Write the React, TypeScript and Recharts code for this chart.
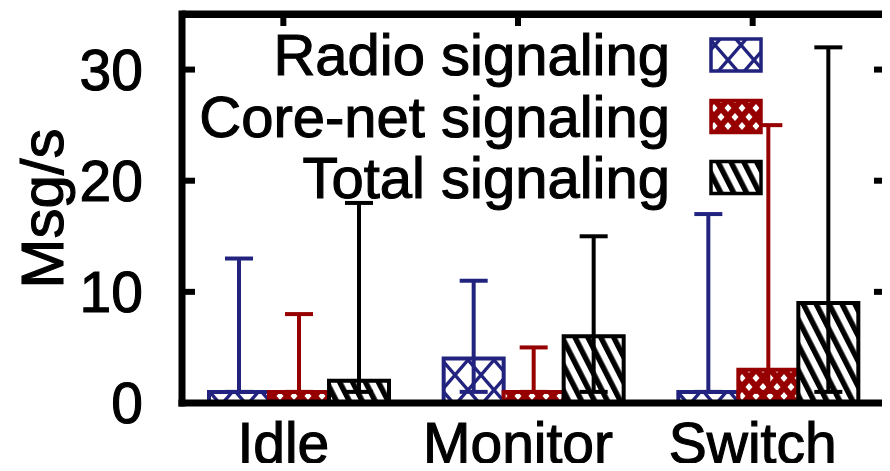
import { BarChart, Bar, XAxis, YAxis, ErrorBar, Legend, ReferenceLine } from "recharts";

const categories = ["Idle", "Monitor", "Switch"];
const seriesNames = ["Radio signaling", "Core-net signaling", "Total signaling"];

// mean bar heights, plus min/max for the error whiskers
const radioMean = [1, 4, 1];
const radioMin = [1, 1, 1];
const radioMax = [13, 11, 17];

const coreMean = [1, 1, 3];
const coreMin = [1, 1, 1];
const coreMax = [8, 5, 25];

const totalMean = [2, 6, 9];
const totalMin = [1, 1, 1];
const totalMax = [18, 15, 32];

const yTicks = [0, 10, 20, 30];
const yMax = 35;

const BLUE = "#22227f";
const RED = "#960000";
const BLACK = "#000000";
const FONT = '"Liberation Sans", Arial, Helvetica, sans-serif';

const W = 890;
const H = 471;
const MARGIN = { top: 14, right: 4, bottom: 0, left: 0 };
const Y_AXIS_W = 182;
const X_AXIS_H = 68;
const PLOT_W = 704; // W - MARGIN.right - Y_AXIS_W
const PLOT_H = 389; // H - MARGIN.top - X_AXIS_H
const LABEL_SHIFT = -16;

const data = categories.map((name, i) => ({
  name,
  radio: radioMean[i],
  radioErr: [radioMean[i] - radioMin[i], radioMax[i] - radioMean[i]],
  core: coreMean[i],
  coreErr: [coreMean[i] - coreMin[i], coreMax[i] - coreMean[i]],
  total: totalMean[i],
  totalErr: [totalMean[i] - totalMin[i], totalMax[i] - totalMean[i]],
}));

const colors = [BLUE, RED, BLACK];
const patIds = ["patRadio", "patCore", "patTotal"];

// gnuplot-ish text is a bit heavier than plain Liberation Sans
const textStyle = { fontFamily: FONT, fill: "#000", stroke: "#000", strokeWidth: 1.1 };

// left tic + label, mirrored tic on the right; the 0 tic also carries the right border
const LeftTick = ({ x, y, payload }: any) => (
  <g>
    <line x1={x} x2={x + 13} y1={y} y2={y} stroke="#000" strokeWidth={6} />
    <line x1={x + PLOT_W} x2={x + PLOT_W - 12} y1={y} y2={y} stroke="#000" strokeWidth={6} />
    {payload.value === 0 && (
      <line
        x1={x + PLOT_W - 1}
        x2={x + PLOT_W - 1}
        y1={y + 3.5}
        y2={y - PLOT_H - 3.5}
        stroke="#000"
        strokeWidth={6}
      />
    )}
    <text x={x - 39} y={y + 20} textAnchor="end" fontSize={57} {...textStyle}>
      {payload.value}
    </text>
  </g>
);

// gnuplot puts the category label a bit left of the bar cluster; mirrored tic on top
const BottomTick = ({ x, y, payload }: any) => (
  <g>
    <line
      x1={x + LABEL_SHIFT}
      x2={x + LABEL_SHIFT}
      y1={y - PLOT_H}
      y2={y - PLOT_H + 12}
      stroke="#000"
      strokeWidth={6}
    />
    <text x={x + LABEL_SHIFT} y={y + 60} textAnchor="middle" fontSize={57} {...textStyle}>
      {payload.value}
    </text>
  </g>
);

const YLabel = (props: any) => {
  const vb = props.viewBox || { x: 0, y: MARGIN.top, width: Y_AXIS_W, height: PLOT_H };
  const cy = vb.y + vb.height / 2;
  return (
    <text
      transform={`translate(${vb.x + 63}, ${cy}) rotate(-90)`}
      textAnchor="middle"
      fontSize={60}
      {...textStyle}
    >
      Msg/s
    </text>
  );
};

const rowY = [55, 116.5, 177.5];

const KeyBox = () => (
  <svg width={W} height={210} style={{ display: "block", overflow: "visible" }}>
    {seriesNames.map((n, i) => (
      <g key={n}>
        <text x={670} y={rowY[i] + 20} textAnchor="end" fontSize={58} {...textStyle}>
          {n}
        </text>
        <rect
          x={711}
          y={rowY[i] - 16}
          width={50}
          height={32}
          fill={`url(#${patIds[i]})`}
          stroke={colors[i]}
          strokeWidth={3.5}
        />
      </g>
    ))}
  </svg>
);

const axisLine = { stroke: "#000", strokeWidth: 7, strokeLinecap: "square" as const };

export default function App() {
  return (
    <div style={{ margin: -8, width: W, height: H, position: "relative", background: "#fff" }}>
      <BarChart
        width={W}
        height={H}
        data={data}
        margin={MARGIN}
        barGap={0}
        barCategoryGap={27}
      >
        <defs>
          <pattern id="patRadio" patternUnits="userSpaceOnUse" width={26} height={30}>
            <rect width={26} height={30} fill="#fff" />
            <path d="M0,0L26,30M26,0L0,30" stroke={BLUE} strokeWidth={3.4} />
          </pattern>
          <pattern id="patCore" patternUnits="userSpaceOnUse" width={14} height={18}>
            <rect width={14} height={18} fill={RED} />
            <path
              d="M7,5L10.5,9L7,13L3.5,9Z M0,-4L3.5,0L0,4L-3.5,0Z M14,-4L17.5,0L14,4L10.5,0Z M0,14L3.5,18L0,22L-3.5,18Z M14,14L17.5,18L14,22L10.5,18Z"
              fill="#fff"
            />
          </pattern>
          <pattern
            id="patTotal"
            patternUnits="userSpaceOnUse"
            width={11.5}
            height={10}
            patternTransform="rotate(-27)"
          >
            <rect width={11.5} height={10} fill="#fff" />
            <rect width={5.4} height={10} fill="#000" />
          </pattern>
        </defs>
        <XAxis
          dataKey="name"
          height={X_AXIS_H}
          axisLine={axisLine}
          tickLine={false}
          tickSize={0}
          tickMargin={0}
          tick={<BottomTick />}
          interval={0}
        />
        <YAxis
          width={Y_AXIS_W}
          domain={[0, yMax]}
          ticks={yTicks}
          interval={0}
          axisLine={axisLine}
          tickLine={false}
          tickSize={0}
          tickMargin={0}
          tick={<LeftTick />}
          label={YLabel}
        />
        {/* top border of the frame */}
        <ReferenceLine y={yMax} stroke="#000" strokeWidth={7} ifOverflow="visible" />
        <Legend
          layout="vertical"
          align="center"
          verticalAlign="middle"
          wrapperStyle={{ position: "absolute", top: 0, left: 0, width: W, height: 0 }}
          content={() => <KeyBox />}
        />
        <Bar dataKey="radio" fill="url(#patRadio)" stroke={BLUE} strokeWidth={4} isAnimationActive={false}>
          <ErrorBar dataKey="radioErr" direction="y" width={14} strokeWidth={4} stroke={BLUE} />
        </Bar>
        <Bar dataKey="core" fill="url(#patCore)" stroke={RED} strokeWidth={4} isAnimationActive={false}>
          <ErrorBar dataKey="coreErr" direction="y" width={14} strokeWidth={4} stroke={RED} />
        </Bar>
        <Bar dataKey="total" fill="url(#patTotal)" stroke={BLACK} strokeWidth={4} isAnimationActive={false}>
          <ErrorBar dataKey="totalErr" direction="y" width={14} strokeWidth={4} stroke={BLACK} />
        </Bar>
      </BarChart>
      {/* top/right edge as a css border over the plot, closes the gnuplot frame */}
      <div
        style={{
          position: "absolute",
          left: Y_AXIS_W,
          top: MARGIN.top - 3.5,
          width: PLOT_W + 2,
          height: PLOT_H + 7,
          boxSizing: "border-box",
          borderTop: "7px solid #000",
          borderRight: "6px solid #000",
          pointerEvents: "none",
        }}
      />
    </div>
  );
}
